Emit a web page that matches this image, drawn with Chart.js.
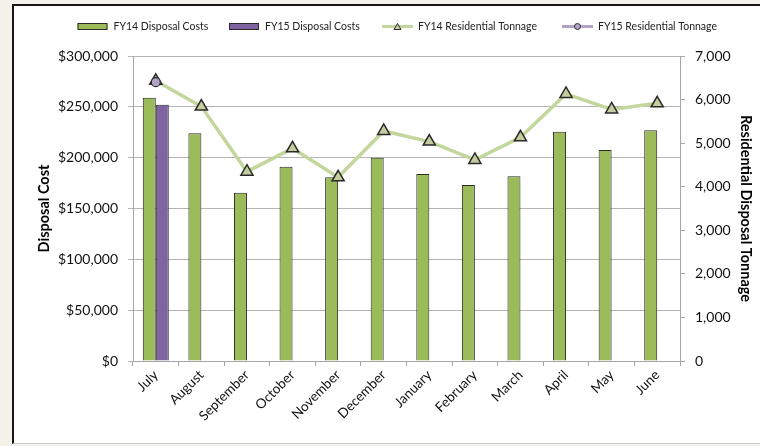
<!DOCTYPE html>
<html><head><meta charset="utf-8">
<script src="https://cdn.jsdelivr.net/npm/chart.js@4.4.1/dist/chart.umd.min.js"></script>
<style>
html,body{margin:0;padding:0;background:#f3f2ea;width:760px;height:446px;overflow:hidden}
#frame{position:absolute;left:12px;top:4px;width:760px;height:437px;background:#fff;border-left:2px solid #151515;border-top:2px solid #151515;border-bottom:1px solid #c8c8c8}
#wrap{position:absolute;left:0;top:0;width:748px;height:437px}
</style></head><body>
<div id="frame"><div id="wrap"><canvas id="c"></canvas></div></div>
<script>
const months = ["July","August","September","October","November","December","January","February","March","April","May","June"];
const fy14Costs = [259000,224000,165500,191000,180700,200000,184000,173100,181700,225500,207500,226900];
const fy15Costs = [252000,null,null,null,null,null,null,null,null,null,null,null];
const fy14Tonnage = [6430,5840,4345,4880,4215,5280,5035,4615,5135,6130,5775,5915];
const fy15Tonnage = [6400,null,null,null,null,null,null,null,null,null,null,null];
const seriesNames = ["FY14 Disposal Costs","FY15 Disposal Costs","FY14 Residential Tonnage","FY15 Residential Tonnage"];
const leftTitle = "Disposal Cost";
const rightTitle = "Residential Disposal Tonnage";

const GREEN = '#9bbb59', PURPLE = '#8064a2', LGREEN = '#c3d69b', LPURPLE = '#b3a2c7';
const TRI = '#c5cd9e', EDGE = '#2a2a2a', AXIS = '#a6a6a6', GRID = '#b4b4b4';
const FONT = 'Lato, "Noto Sans", sans-serif';

const legendPlugin = {
  id: 'customLegend',
  afterDraw(chart) {
    const ctx = chart.ctx;
    ctx.save();
    ctx.font = '10.5px ' + FONT;
    ctx.textBaseline = 'middle';
    const y = 20.5;
    const symX = [63.5, 215, 368, 548];
    const items = chart.data.datasets;
    items.forEach((d, i) => {
      const x = symX[i];
      if (i < 2) {
        ctx.fillStyle = d.backgroundColor;
        ctx.fillRect(x, y - 3, 30, 6);
        ctx.strokeStyle = EDGE; ctx.lineWidth = 1;
        ctx.strokeRect(x + 0.5, y - 3, 29, 6);
      } else {
        ctx.strokeStyle = d.borderColor; ctx.lineWidth = 3;
        ctx.beginPath(); ctx.moveTo(x, y); ctx.lineTo(x + 31, y); ctx.stroke();
        ctx.fillStyle = d.pointBackgroundColor; ctx.strokeStyle = EDGE; ctx.lineWidth = 1;
        ctx.beginPath();
        if (i === 2) { ctx.moveTo(x + 15.5, y - 3); ctx.lineTo(x + 19, y + 3); ctx.lineTo(x + 12, y + 3); ctx.closePath(); }
        else { ctx.arc(x + 15.5, y, 3, 0, Math.PI * 2); }
        ctx.fill(); ctx.stroke();
      }
      ctx.fillStyle = '#222';
      ctx.fillText(d.label, x + 36, y);
    });
    ctx.restore();
  }
};

new Chart(document.getElementById('c'), {
  type: 'bar',
  data: {
    labels: months,
    datasets: [
      { type: 'bar', label: seriesNames[0], data: fy14Costs, backgroundColor: GREEN, borderColor: EDGE, borderWidth: 1, yAxisID: 'y', order: 2, barPercentage: 1, categoryPercentage: 0.57 },
      { type: 'bar', label: seriesNames[1], data: fy15Costs, backgroundColor: PURPLE, borderColor: EDGE, borderWidth: 1, yAxisID: 'y', order: 2, barPercentage: 1, categoryPercentage: 0.57 },
      { type: 'line', label: seriesNames[2], data: fy14Tonnage, borderColor: LGREEN, borderWidth: 3.5, pointStyle: 'triangle', pointRadius: 7, pointBackgroundColor: TRI, pointBorderColor: EDGE, pointBorderWidth: 1.5, yAxisID: 'y1', order: 1, tension: 0 },
      { type: 'line', label: seriesNames[3], data: fy15Tonnage, borderColor: LPURPLE, borderWidth: 3, pointStyle: 'circle', pointRadius: 4.5, pointBackgroundColor: LPURPLE, pointBorderColor: EDGE, pointBorderWidth: 1.2, yAxisID: 'y1', order: 0 }
    ]
  },
  options: {
    responsive: true, maintainAspectRatio: false, animation: false,
    layout: { padding: { top: 50, right: 0, left: 0, bottom: 0 } },
    plugins: { legend: { display: false }, tooltip: { enabled: false } },
    scales: {
      x: {
        grid: { display: true, drawOnChartArea: false, drawTicks: true, tickLength: 5, color: AXIS, offset: true },
        border: { display: true, color: AXIS, width: 1 },
        ticks: { color: '#111', font: { family: FONT, size: 13.5 }, maxRotation: 45, minRotation: 45, padding: 1, autoSkip: false },
        afterFit(s) { s.height = 82; }
      },
      y: {
        position: 'left', min: 0, max: 300000,
        ticks: { stepSize: 50000, color: '#111', font: { family: FONT, size: 14 }, padding: 10,
          callback: v => '$' + v.toLocaleString('en-US') },
        grid: { color: GRID, lineWidth: 1, tickLength: 5, drawTicks: true },
        border: { display: true, color: AXIS, width: 1 },
        title: { display: true, text: leftTitle, color: '#000', font: { family: FONT, size: 14.5, weight: 'bold' }, padding: { top: 22, bottom: 0 } },
        afterFit(s) { s.width = 119; }
      },
      y1: {
        position: 'right', min: 0, max: 7000,
        ticks: { stepSize: 1000, color: '#111', font: { family: FONT, size: 14 }, padding: 10,
          callback: v => v.toLocaleString('en-US') },
        grid: { drawOnChartArea: false, color: AXIS, tickLength: 5, drawTicks: true },
        border: { display: true, color: AXIS, width: 1 },
        title: { display: true, text: rightTitle, color: '#000', font: { family: FONT, size: 14.5, weight: 'bold' }, padding: { top: 8, bottom: 0 } },
        afterFit(s) { s.width = 82; }
      }
    }
  },
  plugins: [legendPlugin]
});
</script>
</body></html>
